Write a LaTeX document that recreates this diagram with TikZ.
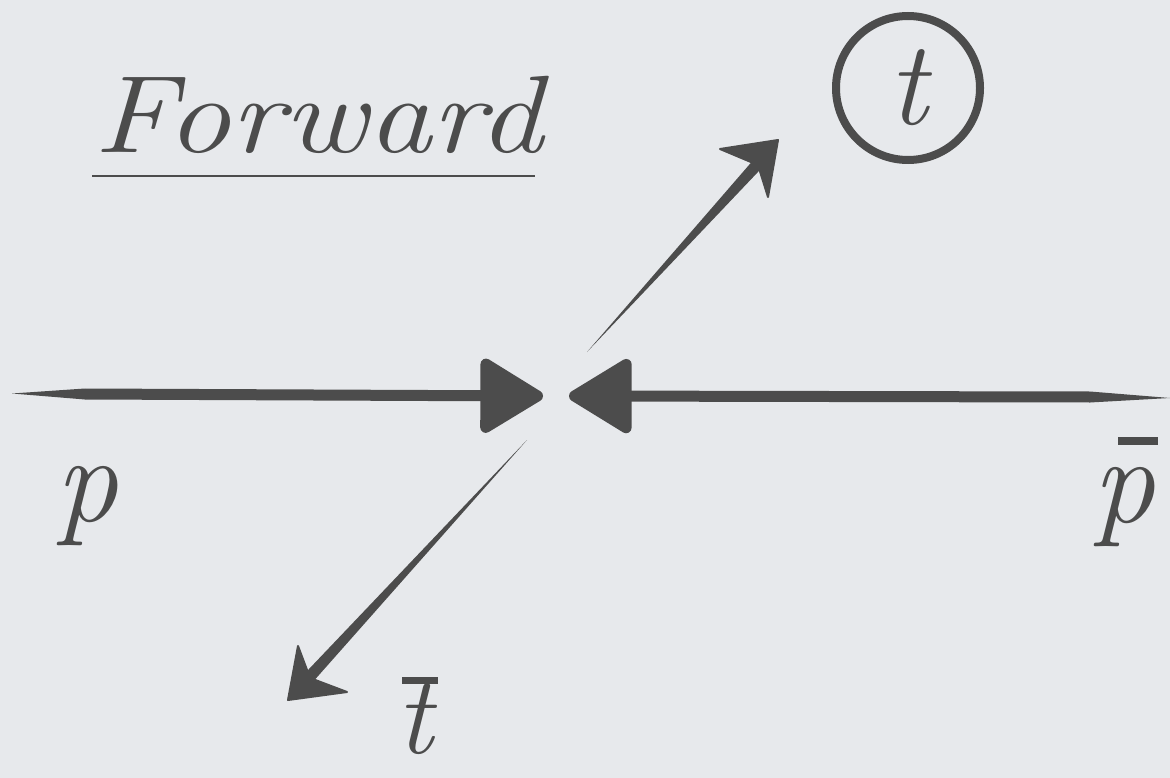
\documentclass[tikz,border=0pt]{standalone}
\usepackage{fontspec}
\usepackage{graphicx}
\usetikzlibrary{arrows.meta,calc}
\definecolor{ink}{RGB}{76,76,76}
\definecolor{bg}{RGB}{231,233,236}
\newcommand{\barred}[2]{\rlap{\hspace{#1}\rule[0.62em]{0.32em}{0.06em}}#2}
\begin{document}
\begin{tikzpicture}[x=1pt,y=-1pt,
  lbl/.style={text=ink,inner sep=0pt},
  shaft/.style={draw=ink,line width=11pt},
  bighead/.style={-{Triangle[length=68pt,width=80pt,round]}},
  wedge/.style={fill=ink,draw=none},
  barb/.style={fill=ink,draw=ink,line width=2pt,line join=round},
]
\fill[bg] (0,0) rectangle (1170,778);
\useasboundingbox (0,0) rectangle (1170,778);

% title
\node[lbl,anchor=base] (title) at (318,153)
  {\fontsize{110}{110}\selectfont\scalebox{1.17}[1]{\itshape Forward}};
\coordinate (ulA) at (92,176);
\coordinate (ulB) at (535,176);
\draw[ink,line width=2.2pt] (ulA) -- (ulB);

% labels
\node[lbl] (p) at (87,506) {\fontsize{125}{125}\selectfont\itshape p};
\node[lbl] (pbar) at (1124,492) {\fontsize{125}{125}\selectfont\itshape\barred{0.2em}{p}};
\node[lbl] (tbar) at (415,716) {\fontsize{112}{112}\selectfont\itshape\barred{0.05em}{t}};
\node[lbl,draw=ink,line width=8pt,circle,minimum size=144pt] (t) at (908,88)
  {\fontsize{120}{120}\selectfont\itshape t};

% incoming p (left)
\coordinate (pS) at (12,393.5);
\coordinate (pA) at (85,394);
\coordinate (pT) at (543,396);
\fill[wedge] (pS) -- ($(pA)+(0,-5.5)$) -- ($(pA)+(0,5.5)$) -- cycle;
\draw[shaft,bighead] (pA) -- (pT);

% incoming pbar (right)
\coordinate (qS) at (1170,398);
\coordinate (qA) at (1090,397);
\coordinate (qT) at (569,396);
\fill[wedge] (qS) -- ($(qA)+(0,-5.5)$) -- ($(qA)+(0,5.5)$) -- cycle;
\draw[shaft,bighead] (qA) -- (qT);

% outgoing t (up right)
\coordinate (tS) at (587,352);
\coordinate (tB) at (763,158);
\coordinate (tT) at (778,140);
\coordinate (tL) at (720,149);
\coordinate (tN) at (758,165);
\coordinate (tR) at (768,197);
\fill[wedge] (tS) -- ($(tB)!6pt!90:(tS)$) -- ($(tB)!6pt!-90:(tS)$) -- cycle;
\filldraw[barb] (tT) -- (tL) -- (tN) -- (tR) -- cycle;

% outgoing tbar (down left)
\coordinate (bS) at (527,440);
\coordinate (bB) at (303,684);
\coordinate (bT) at (288,700);
\coordinate (bU) at (298,646);
\coordinate (bN) at (310,678);
\coordinate (bR) at (347,692);
\fill[wedge] (bS) -- ($(bB)!6pt!90:(bS)$) -- ($(bB)!6pt!-90:(bS)$) -- cycle;
\filldraw[barb] (bT) -- (bU) -- (bN) -- (bR) -- cycle;
\end{tikzpicture}
\end{document}
